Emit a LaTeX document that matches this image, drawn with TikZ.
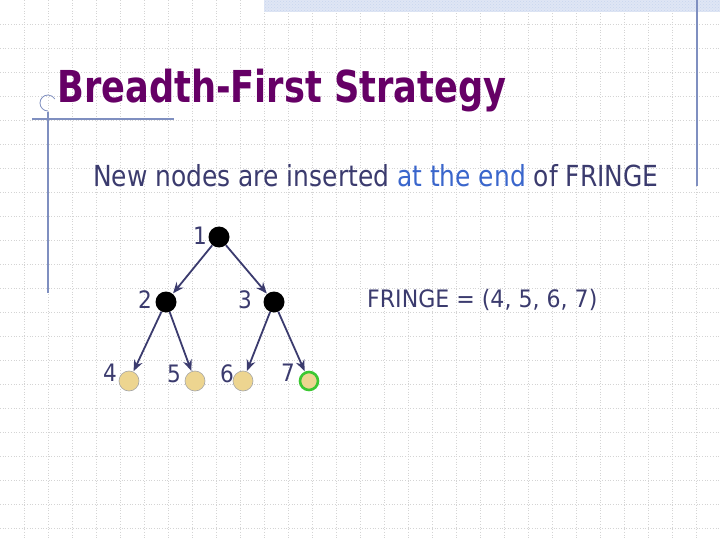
\documentclass[tikz,border=0pt]{standalone}
\usepackage{fontspec}
\setmainfont{DejaVu Sans}
\usetikzlibrary{arrows.meta,patterns}
\definecolor{navy}{HTML}{3B3B6E}
\definecolor{linkblue}{HTML}{3A66CC}
\definecolor{ttl}{HTML}{660066}
\definecolor{gridc}{HTML}{D4D4D4}
\definecolor{deco}{HTML}{7F8FC0}
\definecolor{leaf}{HTML}{EDD590}
\definecolor{ringgreen}{HTML}{3CC832}
\definecolor{banner}{HTML}{C9D5EE}
\tikzset{
  inner/.style={circle,fill=black,minimum size=21pt,inner sep=0pt},
  leafnode/.style={circle,fill=leaf,draw=gray!70,line width=0.6pt,minimum size=20pt,inner sep=0pt},
  goalnode/.style={circle,fill=leaf,draw=ringgreen,line width=2.6pt,minimum size=18pt,inner sep=0pt},
  lbl/.style={text=navy,font=\fontsize{24}{28}\selectfont,inner sep=0pt,anchor=base},
  edge/.style={navy,line width=1.8pt,-{Stealth[length=11pt,width=9pt]},shorten >=0.5pt},
  decoline/.style={deco,line width=1.3pt}
}
\begin{document}
\begin{tikzpicture}[x=1pt,y=-1pt]
\useasboundingbox (0,0) rectangle (720,540);
\fill[white] (0,0) rectangle (720,540);
% grid
\foreach \i in {1,...,29} \draw[gridc,dotted,line width=0.7pt] (\i*24,0) -- (\i*24,540);
\foreach \j in {1,...,22} \draw[gridc,dotted,line width=0.7pt] (0,\j*24) -- (720,\j*24);
% banner
\fill[banner!60] (264,0) rectangle (720,12);
\fill[pattern=crosshatch dots,pattern color=banner] (264,0) rectangle (720,12);
% decorations
\draw[decoline] (697,0) -- (697,186);
\draw[decoline] (32,119) -- (174,119);
\draw[decoline] (48,112) -- (48,293);
\draw[deco,line width=0.8pt] (48,111) arc[start angle=90,end angle=330,radius=8];
% title
\node[anchor=base west,inner sep=0pt,text=ttl,font=\bfseries\fontsize{44}{50}\selectfont] (title) at (57,103) {\scalebox{0.80}[1]{Breadth-First Strategy}};
% subtitle
\node[anchor=base west,inner sep=0pt,text=navy,font=\fontsize{29}{33}\selectfont] (sub) at (93,187) {\scalebox{0.86}[1]{New nodes are inserted \textcolor{linkblue}{at the end} of FRINGE}};
% tree
\node[inner] (n1) at (219,237) {};
\node[inner] (n2) at (166,302) {};
\node[inner] (n3) at (274,302) {};
\node[leafnode] (n4) at (129,381) {};
\node[leafnode] (n5) at (195,381) {};
\node[leafnode] (n6) at (243,381) {};
\node[goalnode] (n7) at (309,381) {};
\draw[edge] (n1) -- (n2);
\draw[edge] (n1) -- (n3);
\draw[edge] (n2) -- (n4);
\draw[edge] (n2) -- (n5);
\draw[edge] (n3) -- (n6);
\draw[edge] (n3) -- (n7);
\node[lbl] (l1) at (200,244) {\scalebox{0.9}[1]{1}};
\node[lbl] (l2) at (145,308) {\scalebox{0.9}[1]{2}};
\node[lbl] (l3) at (245,308) {\scalebox{0.9}[1]{3}};
\node[lbl] (l4) at (110,381) {\scalebox{0.9}[1]{4}};
\node[lbl] (l5) at (174,382) {\scalebox{0.9}[1]{5}};
\node[lbl] (l6) at (227,382) {\scalebox{0.9}[1]{6}};
\node[lbl] (l7) at (288,381) {\scalebox{0.9}[1]{7}};
\node[anchor=base west,inner sep=0pt,text=navy,font=\fontsize{24}{28}\selectfont] (fringe) at (367,307) {\scalebox{0.92}[1]{FRINGE = (4, 5, 6, 7)}};
\end{tikzpicture}
\end{document}
